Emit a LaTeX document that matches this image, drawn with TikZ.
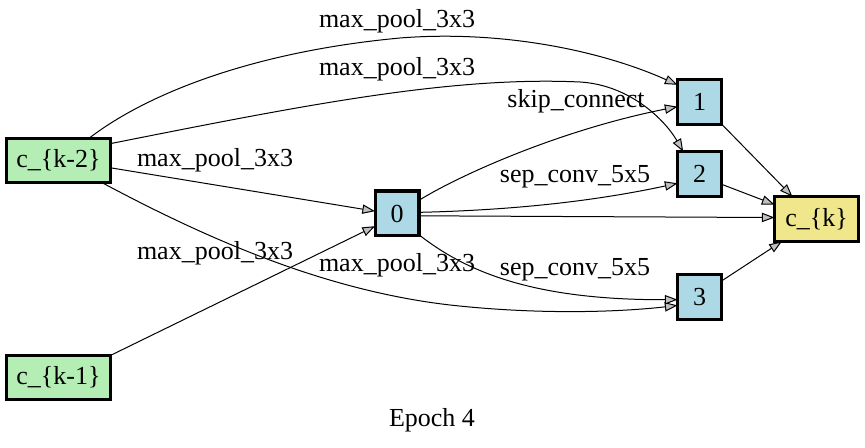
\documentclass[tikz,border=0pt]{standalone}
\usepackage{fontspec}
\setmainfont{Liberation Serif}
\usetikzlibrary{arrows.meta}
\definecolor{inputgreen}{HTML}{B4EEB4}
\definecolor{opblue}{HTML}{ADD8E6}
\definecolor{outkhaki}{HTML}{F0E68C}
\definecolor{tipgray}{HTML}{C0C0C0}
\begin{document}
\begin{tikzpicture}[x=0.75pt,y=-0.75pt,
  every node/.style={font=\fontsize{19.5}{23}\selectfont, inner sep=0pt, outer sep=0pt},
  cellbox/.style={draw=black, line width=2.3pt, rectangle},
  inputbox/.style={cellbox, fill=inputgreen, minimum width=77.95pt, minimum height=32.95pt},
  opbox/.style={cellbox, fill=opblue, minimum width=32.95pt, minimum height=33.7pt},
  outbox/.style={cellbox, fill=outkhaki, minimum width=62.95pt, minimum height=33.7pt},
  edge/.style={draw=black, line width=0.75pt, -{Triangle[length=9.5pt,width=7pt,fill=tipgray]}},
  oplabel/.style={anchor=center}
]
\useasboundingbox[fill=white] (0,0) rectangle (865,448);

% cell nodes
\node[inputbox] (ck2) at (58.5,160.5) {c\_\{k-2\}};
\node[inputbox] (ck1) at (58.5,377.5) {c\_\{k-1\}};
\node[opbox] (n0) at (397,213.5) {0};
\node[opbox] (n1) at (699.5,102) {1};
\node[opbox] (n2) at (699.5,174) {2};
\node[opbox] (n3) at (699.5,297) {3};
\node[outbox] (ck) at (816.5,219) {c\_\{k\}};

% operation labels
\node[oplabel] (l1) at (397,21) {max\_pool\_3x3};
\node[oplabel] (l2) at (397,69) {max\_pool\_3x3};
\node[oplabel] (l3) at (215,160) {max\_pool\_3x3};
\node[oplabel] (l4) at (397,265) {max\_pool\_3x3};
\node[oplabel] (l5) at (215,253) {max\_pool\_3x3};
\node[oplabel] (l6) at (576,101) {skip\_connect};
\node[oplabel] (l7) at (575,177) {sep\_conv\_5x5};
\node[oplabel] (l8) at (575,270) {sep\_conv\_5x5};
\node[oplabel] (title) at (432,420) {Epoch 4};

% edges into the intermediate nodes
\draw[edge] (ck2.36.7) .. controls (145,95) and (250,52) .. (400,38)
  .. controls (500,30) and (600,50) .. (n1.142.6);
\draw[edge] (ck2.18) .. controls (300,106) and (450,76) .. (580,82)
  .. controls (630,85) and (665,120) .. (n2.126);
\draw[edge] (ck2.-8) -- (n0.174);
\draw[edge] (ck2.-27.8) .. controls (200,235) and (320,290) .. (450,305)
  .. controls (540,315) and (620,312) .. (n3.201);
\draw[edge] (ck1.23) -- (n0.-150.6);
\draw[edge] (n0.31) .. controls (460,175) and (560,130) .. (n1.192);
\draw[edge] (n0.3.6) .. controls (520,210) and (600,200) .. (n2.203);
\draw[edge] (n0.-44) .. controls (470,275) and (540,300) .. (n3.187);

% edges into the output node
\draw[edge] (n0.-6) -- (ck.178.7);
\draw[edge] (n1.-45) -- (ck.137.8);
\draw[edge] (n2.-25) -- (ck.161);
\draw[edge] (n3.36) -- (ck.213);
\end{tikzpicture}
\end{document}
